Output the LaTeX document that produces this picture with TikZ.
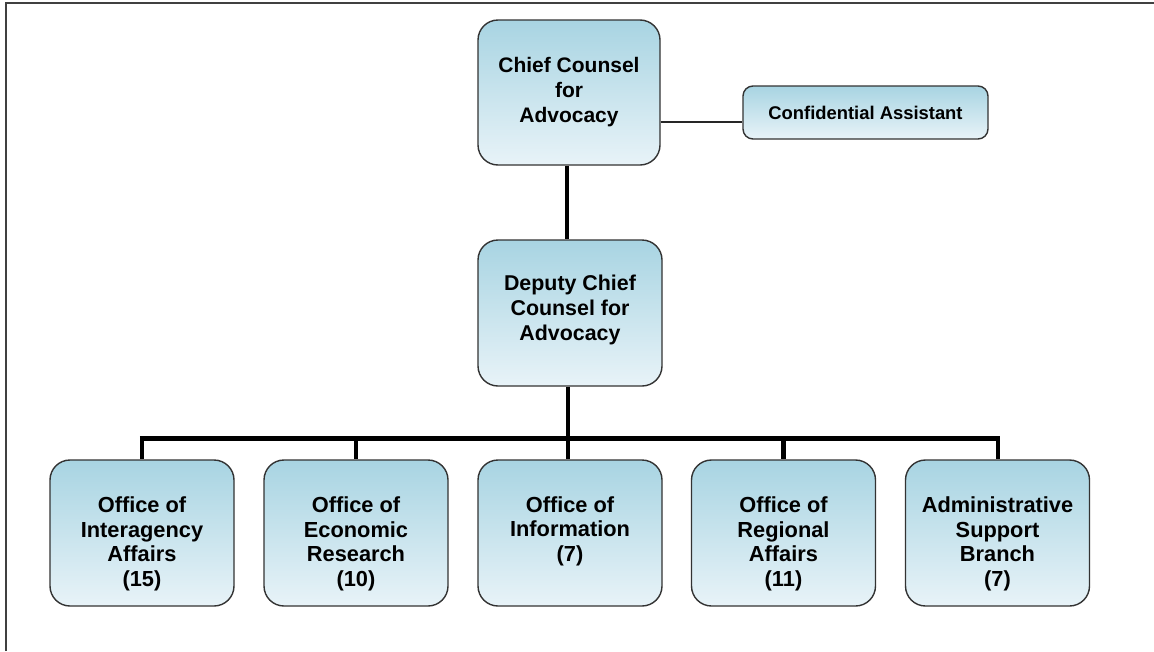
\documentclass[tikz,border=0pt]{standalone}
\usepackage{fontspec}
\setmainfont{Liberation Sans}
\begin{document}
\begin{tikzpicture}[x=1pt,y=-1pt,
  orgbox/.style={draw=black!80, line width=1.4pt, rounded corners=20pt,
    top color=boxtop, bottom color=boxbot, shading angle=0,
    minimum width=184pt, minimum height=146pt, inner sep=0pt},
  cabox/.style={draw=black!80, line width=1.4pt, rounded corners=10pt,
    top color=boxtop, bottom color=boxbot,
    minimum width=245pt, minimum height=53pt, inner sep=0pt,
    font=\fontsize{18.4}{22}\selectfont\bfseries},
  lbl/.style={align=center, font=\fontsize{21}{24.6}\selectfont\bfseries, inner sep=0pt},
  lowlbl/.style={lbl, font=\fontsize{21.8}{24.6}\selectfont\bfseries},
  thinline/.style={line width=2pt, draw=black!85},
  busline/.style={line width=4.5pt, draw=black}
]
\definecolor{boxtop}{RGB}{168,212,226}
\definecolor{boxbot}{RGB}{232,243,248}
\useasboundingbox (0,0) rectangle (1154,651);
\fill[white] (0,0) rectangle (1154,651);
\draw[line width=1.5pt, draw=black!75] (6,651) -- (6,3) -- (1154,3);

% top level
\node[orgbox, minimum width=182pt, minimum height=145pt] (chief) at (569,92.5) {};
\node[lbl, font=\fontsize{21}{25}\selectfont\bfseries] (chiefT) at (chief.center) {Chief Counsel\\for\\Advocacy};
\node[cabox] (ca) at (865.5,112.5) {Confidential Assistant};

\node[orgbox] (dep) at (570,313) {};
\node[lbl, font=\fontsize{21.4}{24.6}\selectfont\bfseries] (depT) at ([yshift=3pt]dep.center) {Deputy Chief\\Counsel for\\Advocacy};

% bottom row
\node[orgbox] (ia) at (142,533) {};
\node[orgbox] (er) at (356,533) {};
\node[orgbox] (oi) at (570,533) {};
\node[orgbox] (ra) at (783.5,533) {};
\node[orgbox] (as) at (997.5,533) {};

\node[lowlbl] (iaT) at (142,544) {Office of\\Interagency\\Affairs\\(15)};
\node[lowlbl] (erT) at (356,544) {Office of\\Economic\\Research\\(10)};
\node[lowlbl] (oiT) at (570,531) {Office of\\Information\\(7)};
\node[lowlbl] (raT) at (783.5,544) {Office of\\Regional\\Affairs\\(11)};
\node[lowlbl] (asT) at (997.5,544) {Administrative\\Support\\Branch\\(7)};

% connectors
\coordinate (busL) at (142,438.5);
\coordinate (busR) at (998,438.5);
\coordinate (busM) at (568,438.5);
\draw[thinline] (chief.east |- 0,122) -- (ca.west |- 0,122);
\draw[line width=3.3pt] (chief.south -| 567,0) -- (dep.north -| 567,0);
\draw[line width=4.3pt] (dep.south -| 568,0) -- (busM);
\draw[busline] ([xshift=-2.25pt]busL) -- ([xshift=2.25pt]busR);
\draw[busline] (busL) -- (ia.north);
\draw[busline] (356,438.5) -- (er.north);
\draw[busline] (busM) -- (oi.north -| busM);
\draw[busline] (783.5,438.5) -- (ra.north);
\draw[busline] (busR) -- (as.north -| busR);
\end{tikzpicture}
\end{document}
